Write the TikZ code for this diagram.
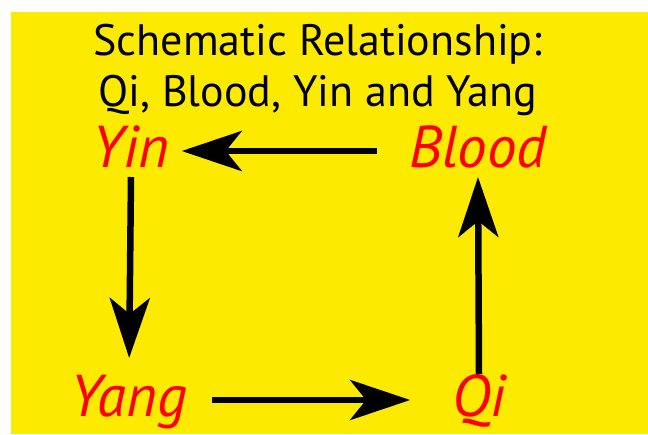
\documentclass[tikz,border=0pt]{standalone}
\usepackage{fontspec}
\setmainfont{PT Sans}
\usetikzlibrary{arrows.meta}
\definecolor{qiyellow}{RGB}{252,235,0}
\definecolor{qired}{RGB}{255,0,0}

\tikzset{
    word/.style={font=\fontsize{59}{59}\selectfont\itshape, text=qired,
        inner sep=0pt, outer sep=0pt, text height=42pt, text depth=10pt},
    flow/.style={line width=6.5pt,
        -{Stealth[length=60pt,width=40pt,inset=16pt]}}
}

\begin{document}
\begin{tikzpicture}[x=1pt,y=-1pt]
% Background
\useasboundingbox (0,0) rectangle (648,434);
\fill[qiyellow] (11,12) rectangle (648,434);

% Title (base = last line)
\node[font=\fontsize{44}{51}\selectfont, align=center, anchor=base] (title) at (318,106)
    {Schematic Relationship:\\Qi, Blood, Yin and Yang};

% The four terms
\node[word] (yin) at (131,151) {Yin};
\node[word] (blood) at (478,151) {Blood};
\node[word] (yang) at (129,400) {Yang};
\node[word] (qi) at (479,400) {Qi};

% Cycle
\draw[flow,shorten <=32pt,shorten >=12pt] (blood.west) -- (yin.east);
\draw[flow,shorten >=16pt] (yin.south) -- (yang.north);
\draw[flow,shorten <=25pt,shorten >=42pt] (yang.east) -- (qi.west);
\draw[flow] (qi.north) -- (blood.south);

\end{tikzpicture}
\end{document}
